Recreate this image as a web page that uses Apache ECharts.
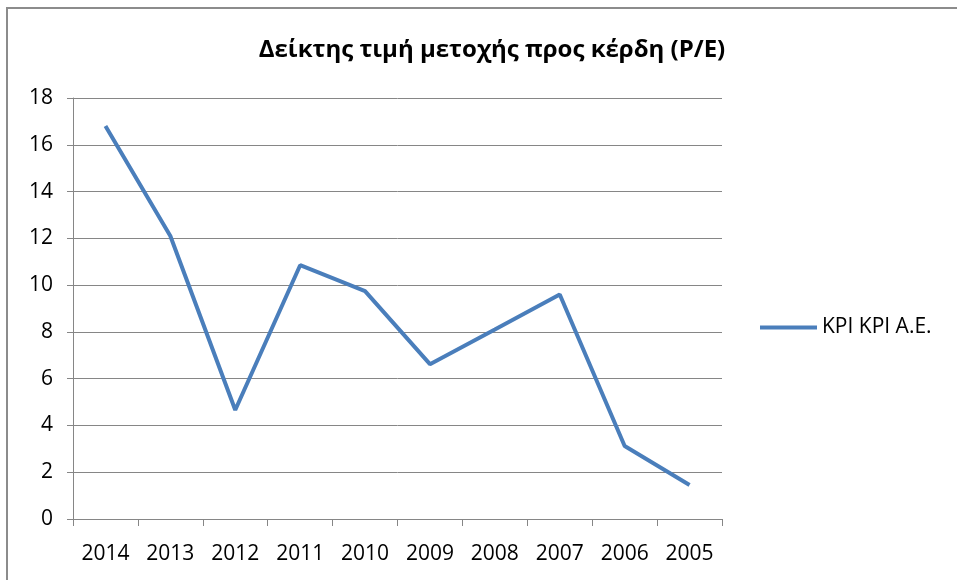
<!DOCTYPE html>
<html><head><meta charset="utf-8">
<script src="https://cdn.jsdelivr.net/npm/echarts@6/dist/echarts.min.js"></script>
<style>html,body{margin:0;padding:0;background:#fff;overflow:hidden}#c{width:957px;height:580px}
#frame{position:absolute;left:6px;top:7px;width:980px;height:600px;border:2px solid #8c8c8c;box-sizing:border-box;pointer-events:none}</style>
</head><body><div id="c"></div><div id="frame"></div>
<script>
const categories = ['2014','2013','2012','2011','2010','2009','2008','2007','2006','2005'];
const seriesName = 'KPI KPI A.E.';
const values = [16.8, 12.1, 4.66, 10.85, 9.74, 6.62, 8.1, 9.6, 3.12, 1.45];
const titleText = 'Δείκτης τιμή μετοχής προς κέρδη (P/E)';
const chart = echarts.init(document.getElementById('c'));
const font = '"Open Sans", "DejaVu Sans", sans-serif';
chart.setOption({
  animation: false,
  title: { text: titleText, left: 487, top: 33, textAlign: 'center',
    textStyle: { fontFamily: font, fontSize: 24, fontWeight: 'bold', color: '#000' } },
  legend: { data: [seriesName], orient: 'vertical', left: 755, top: 312, itemWidth: 57, itemHeight: 4,
    icon: 'rect', itemGap: 5,
    textStyle: { fontFamily: font, fontSize: 21, color: '#000' } },
  grid: { left: 73, right: 235, top: 98, bottom: 61 },
  xAxis: { type: 'category', data: categories, boundaryGap: true,
    axisLine: { lineStyle: { color: '#868686', width: 1 } },
    axisTick: { show: true, interval: 0, alignWithLabel: false, length: 7, lineStyle: { color: '#868686' } },
    axisLabel: { interval: 0, fontFamily: font, fontSize: 21, color: '#000', margin: 25 } },
  yAxis: { type: 'value', min: 0, max: 18, interval: 2,
    axisLine: { show: true, lineStyle: { color: '#868686' } },
    axisTick: { show: true, length: 6, lineStyle: { color: '#868686' } },
    splitLine: { lineStyle: { color: '#868686', width: 1 } },
    axisLabel: { fontFamily: font, fontSize: 21, color: '#000', margin: 20 } },
  series: [{ name: seriesName, type: 'line', data: values, symbol: 'none',
    lineStyle: { color: '#4a7ebb', width: 4 }, itemStyle: { color: '#4a7ebb' } }]
});
</script></body></html>
